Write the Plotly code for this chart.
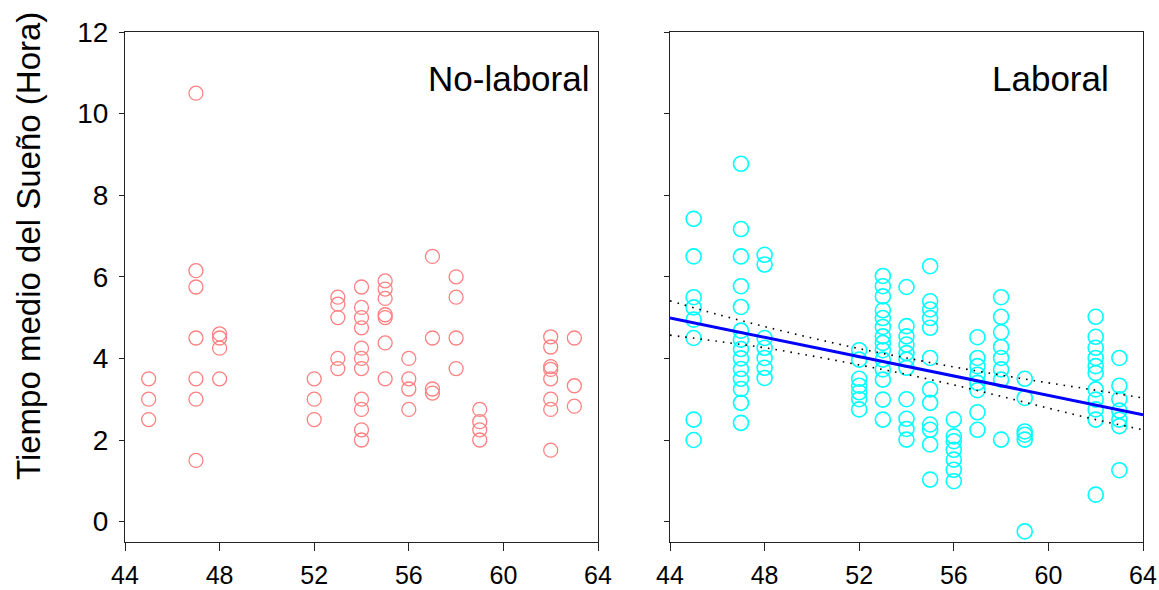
import plotly.graph_objects as go

# ---------------- data ----------------
# No-laboral (left panel): age -> sleep hours
nl_x = ([45]*3 + [47]*7 + [48]*4 + [52]*3 + [53]*5 + [54]*11 + [55]*7 +
        [56]*4 + [57]*4 + [58]*4 + [59]*4 + [62]*8 + [63]*3)
nl_y = [3.5, 3.0, 2.5,
        10.5, 6.15, 5.75, 4.5, 3.5, 3.0, 1.5,
        4.6, 4.5, 4.25, 3.5,
        3.5, 3.0, 2.5,
        5.5, 5.33, 5.0, 4.0, 3.75,
        5.75, 5.25, 5.0, 4.75, 4.25, 4.0, 3.75, 3.0, 2.75, 2.25, 2.0,
        5.9, 5.7, 5.47, 5.07, 5.0, 4.38, 3.5,
        4.0, 3.5, 3.25, 2.75,
        6.5, 4.5, 3.25, 3.15,
        6.0, 5.5, 4.5, 3.75,
        2.75, 2.45, 2.25, 2.0,
        4.53, 4.28, 3.8, 3.73, 3.5, 3.0, 2.75, 1.75,
        4.5, 3.33, 2.83]

# Laboral (right panel)
lb_x = ([45]*8 + [47]*14 + [48]*7 + [52]*7 + [53]*14 + [54]*11 + [55]*12 +
        [56]*7 + [57]*8 + [58]*8 + [59]*6 + [62]*11 + [63]*7)
lb_y = [7.42, 6.5, 5.5, 5.25, 4.95, 4.5, 2.5, 2.0,
        8.77, 7.17, 6.5, 5.77, 5.26, 4.68, 4.46, 4.23, 4.0, 3.74, 3.5, 3.25, 2.91, 2.42,
        6.54, 6.3, 4.5, 4.26, 4.01, 3.77, 3.52,
        4.2, 3.97, 3.5, 3.33, 3.17, 3.0, 2.75,
        6.02, 5.77, 5.52, 5.18, 4.99, 4.77, 4.54, 4.38, 4.2, 3.97, 3.73, 3.48, 2.99, 2.5,
        5.75, 4.79, 4.54, 4.34, 4.13, 3.97, 3.77, 3.0, 2.52, 2.27, 2.01,
        6.26, 5.4, 5.2, 4.99, 4.75, 4.01, 3.24, 2.91, 2.38, 2.25, 1.89, 1.03,
        2.5, 2.09, 1.97, 1.76, 1.52, 1.27, 0.99,
        4.52, 4.01, 3.81, 3.6, 3.4, 3.22, 2.68, 2.25,
        5.5, 5.02, 4.64, 4.28, 4.01, 3.73, 3.48, 2.01,
        3.5, 3.03, 2.21, 2.13, 2.01, -0.24,
        5.02, 4.53, 4.26, 4.01, 3.81, 3.64, 3.24, 2.99, 2.75, 2.5, 0.66,
        4.01, 3.33, 3.0, 2.72, 2.5, 2.34, 1.26]

# Regression line and confidence band (Laboral)
fit_x = [44, 64]
fit_y = [4.99, 2.62]
ci_x = [44, 46, 48, 50, 52, 54, 56, 58, 60, 62, 64]
ci_upper = [5.41, 5.08, 4.78, 4.50, 4.24, 4.01, 3.79, 3.59, 3.40, 3.22, 3.03]
ci_lower = [4.57, 4.42, 4.26, 4.06, 3.84, 3.61, 3.35, 3.07, 2.78, 2.50, 2.25]

x_ticks = [44, 48, 52, 56, 60, 64]
y_ticks = [0, 2, 4, 6, 8, 10, 12]

panel_labels = ["No-laboral", "Laboral"]
y_title = "Tiempo medio del Sueño (Hora)"

# ---------------- figure ----------------
FONT = "Liberation Sans, Arial, sans-serif"
fig = go.Figure()

fig.add_trace(go.Scatter(
    x=nl_x, y=nl_y, mode="markers", xaxis="x", yaxis="y",
    marker=dict(symbol="circle-open", size=14, color="rgb(255,128,128)",
                line=dict(width=1.3, color="rgb(255,128,128)")),
    showlegend=False, hoverinfo="x+y"))

fig.add_trace(go.Scatter(
    x=lb_x, y=lb_y, mode="markers", xaxis="x2", yaxis="y2",
    marker=dict(symbol="circle-open", size=15, color="rgb(0,255,255)",
                line=dict(width=1.6, color="rgb(0,255,255)")),
    showlegend=False, hoverinfo="x+y"))

for band in (ci_upper, ci_lower):
    fig.add_trace(go.Scatter(
        x=ci_x, y=band, mode="lines", xaxis="x2", yaxis="y2",
        line=dict(color="black", width=1.6, dash="1.6px,6px", shape="spline"),
        showlegend=False, hoverinfo="skip"))

fig.add_trace(go.Scatter(
    x=fit_x, y=fit_y, mode="lines", xaxis="x2", yaxis="y2",
    line=dict(color="rgb(0,0,255)", width=3),
    showlegend=False, hoverinfo="skip"))

axis_common = dict(
    showline=True, linecolor="#222222", linewidth=1.2, mirror=True,
    showgrid=False, zeroline=False, ticks="outside", tickcolor="#222222",
    tickwidth=1.2, automargin=False,
)

xaxis_common = dict(axis_common, range=[44, 64], tickvals=x_ticks,
                    ticklen=8, ticklabelstandoff=3,
                    tickfont=dict(family=FONT, size=25, color="black"))
yaxis_common = dict(axis_common, range=[-0.5, 12], tickvals=y_ticks,
                    ticklen=5, ticklabelstandoff=5,
                    tickfont=dict(family=FONT, size=28, color="black"))

W = 1143 - 125
fig.update_layout(
    width=1159, height=590,
    margin=dict(l=125, r=16, t=32, b=48, autoexpand=False),
    paper_bgcolor="white", plot_bgcolor="white",
    xaxis=dict(xaxis_common, domain=[0, 473 / W], anchor="y"),
    yaxis=dict(yaxis_common, domain=[0, 1], anchor="x"),
    xaxis2=dict(xaxis_common, domain=[545 / W, 1], anchor="y2"),
    yaxis2=dict(yaxis_common, domain=[0, 1], anchor="x2", showticklabels=False),
)

fig.add_annotation(x=63.7, y=10.87, xref="x", yref="y", text=panel_labels[0],
                   showarrow=False, xanchor="right", yanchor="middle",
                   font=dict(family=FONT, size=35, color="black"))
fig.add_annotation(x=62.65, y=10.87, xref="x2", yref="y2", text=panel_labels[1],
                   showarrow=False, xanchor="right", yanchor="middle",
                   font=dict(family=FONT, size=35, color="black"))
fig.add_annotation(x=0, y=(542 - 246) / 510, xref="paper", yref="paper",
                   text=y_title, showarrow=False, textangle=-90,
                   xanchor="center", yanchor="middle", xshift=-96,
                   font=dict(family=FONT, size=33, color="black"))

# remove the default 8px page margin so the figure fills the window exactly
fig.write_html("out.html",
               config={"displayModeBar": False},
               post_script="document.body.style.margin='0px';"
                           "document.body.style.overflow='hidden';")
